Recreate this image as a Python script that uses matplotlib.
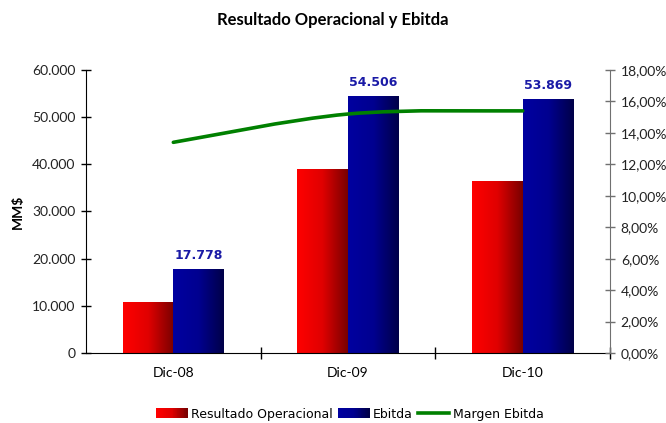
import numpy as np
import matplotlib
matplotlib.use("Agg")
import matplotlib.pyplot as plt
from matplotlib.patches import Rectangle, PathPatch
from matplotlib.path import Path
from matplotlib.colors import LinearSegmentedColormap
from matplotlib.ticker import FixedLocator, FuncFormatter
from matplotlib.legend_handler import HandlerBase
from matplotlib.offsetbox import AnchoredOffsetbox

categories = ["Dic-08", "Dic-09", "Dic-10"]
resultado_operacional = [10800, 39100, 36500]
ebitda = [17778, 54506, 53869]
margen_ebitda = [13.4, 15.2, 15.4]  # %
ebitda_labels = ["17.778", "54.506", "53.869"]

red_cmap = LinearSegmentedColormap.from_list("r", ["#ff0000", "#e00000", "#780000"])
blue_cmap = LinearSegmentedColormap.from_list("b", ["#0000a0", "#000090", "#000048"])

fig = plt.figure(figsize=(6.66, 4.23), dpi=100)
L, R, T, B = 86, 610, 70, 353
ax = fig.add_axes([L/666, 1-B/423, (R-L)/666, (B-T)/423])
ax2 = ax.twinx()

ax.set_xlim(-0.5, 2.5)
ax.set_ylim(0, 60000)
ax2.set_ylim(0, 18)

w = 0.29
grad = np.linspace(0, 1, 256).reshape(1, -1)

def grad_bar(axis, x0, height, cmap):
    rect = Rectangle((x0, 0), w, height, facecolor="none", edgecolor="none")
    axis.add_patch(rect)
    im = axis.imshow(grad, cmap=cmap, aspect="auto", extent=(x0, x0 + w, 0, height),
                     interpolation="bilinear", zorder=2)
    im.set_clip_path(rect)

x = np.arange(len(categories))
for i in range(len(categories)):
    grad_bar(ax, x[i] - w, resultado_operacional[i], red_cmap)
    grad_bar(ax, x[i], ebitda[i], blue_cmap)
    ax.text(x[i] + w/2, ebitda[i] + 1500, ebitda_labels[i], ha="center", va="bottom",
            fontsize=9, fontweight="bold", color="#1a1aa6", family="DejaVu Sans")

ax.set_xlim(-0.5, 2.5)
ax.set_ylim(0, 60000)

# smoothed line through data points (Catmull-Rom style bezier)
px = list(x)
py = margen_ebitda
verts = [(px[0], py[0])]
codes = [Path.MOVETO]
n = len(px)
for i in range(n - 1):
    p0 = (px[i-1], py[i-1]) if i > 0 else (px[i], py[i])
    p1 = (px[i], py[i])
    p2 = (px[i+1], py[i+1])
    p3 = (px[i+2], py[i+2]) if i + 2 < n else p2
    c1 = (p1[0] + (p2[0]-p0[0])/6, p1[1] + (p2[1]-p0[1])/6)
    c2 = (p2[0] - (p3[0]-p1[0])/6, p2[1] - (p3[1]-p1[1])/6)
    verts += [c1, c2, p2]
    codes += [Path.CURVE4]*3
line_patch = PathPatch(Path(verts, codes), facecolor="none", edgecolor="#008000", lw=2.6,
                       capstyle="round", zorder=5)
ax2.add_patch(line_patch)
ax2.set_xlim(-0.5, 2.5)
ax2.patch.set_visible(False)

# spines
ax.spines["top"].set_visible(False)
ax2.spines["top"].set_visible(False)
ax.spines["left"].set_color("black")
ax.spines["bottom"].set_color("black")
ax2.spines["right"].set_color("#707070")
ax2.spines["left"].set_visible(False)
ax2.spines["bottom"].set_visible(False)
ax.spines["right"].set_visible(False)

ax.yaxis.set_major_locator(FixedLocator(np.arange(0, 60001, 10000)))
ax.yaxis.set_major_formatter(FuncFormatter(lambda v, p: "0" if v == 0 else f"{int(v):,}".replace(",", ".")))
ax2.yaxis.set_major_locator(FixedLocator(np.arange(0, 18.01, 2)))
ax2.yaxis.set_major_formatter(FuncFormatter(lambda v, p: f"{v:.2f}%".replace(".", ",")))
ax.tick_params(axis="y", direction="inout", length=7.5, width=1, pad=4, colors="black", labelcolor="#222222")
ax2.tick_params(axis="y", direction="inout", length=7.5, width=1, pad=4, colors="#707070", labelcolor="#222222")
for lbl in ax.get_yticklabels() + ax2.get_yticklabels():
    lbl.set_fontfamily("Lato"); lbl.set_fontsize(10)

# x: ticks at boundaries, labels at centers
ax.set_xticks([0.5, 1.5, 2.5])
ax.set_xticklabels([])
ax.set_xticks(x, minor=True)
ax.set_xticklabels(categories, minor=True, fontfamily="Lato", fontsize=10)
ax.tick_params(axis="x", which="major", direction="inout", length=9, width=1)
ax.tick_params(axis="x", which="minor", length=0, pad=10)

ax.set_ylabel("MM$", fontfamily="Lato", fontweight="bold", fontsize=10, labelpad=6)

fig.text(0.5, 1-20/423, "Resultado Operacional y Ebitda", ha="center", va="center",
         fontfamily="Lato", fontweight="bold", fontsize=12)

# legend
class GradHandler(HandlerBase):
    def __init__(self, cmap):
        super().__init__()
        self.cmap = cmap
    def create_artists(self, legend, orig_handle, xdescent, ydescent, width, height, fontsize, trans):
        arts = []
        nseg = 40
        for k in range(nseg):
            r = Rectangle((-xdescent + width*k/nseg, -ydescent), width/nseg*1.6, height,
                          facecolor=self.cmap(k/(nseg-1)), edgecolor="none", lw=0,
                          antialiased=False, transform=trans)
            arts.append(r)
        return arts

h1 = Rectangle((0, 0), 1, 1)
h2 = Rectangle((0, 0), 1, 1, facecolor="b")
h3 = plt.Line2D([0], [0], color="#008000", lw=2.6)
leg = fig.legend([h1, h2, h3], ["Resultado Operacional", "Ebitda", "Margen Ebitda"],
                 handler_map={h1: GradHandler(red_cmap), h2: GradHandler(blue_cmap)},
                 loc="center", bbox_to_anchor=(350/666, 1-414/423), ncol=3, frameon=False,
                 prop=dict(family="DejaVu Sans", size=9), handlelength=2.5, handleheight=0.9,
                 handletextpad=0.3, columnspacing=0.4)

fig.savefig("out.png", dpi=100)
